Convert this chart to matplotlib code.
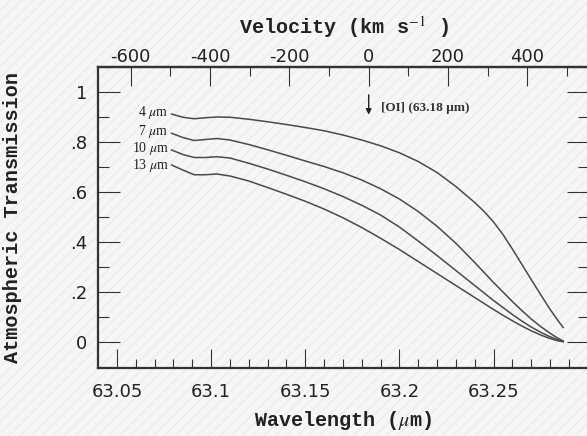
import numpy as np
import matplotlib.pyplot as plt
from matplotlib.ticker import MultipleLocator, FixedLocator, FixedFormatter
from matplotlib.patches import Rectangle

plt.rcParams['axes.unicode_minus'] = False
plt.rcParams['mathtext.fontset'] = 'stix'
plt.rcParams['hatch.linewidth'] = 0.5

# wavelength grid (micron)
wave = [63.079, 63.085, 63.091, 63.097, 63.103, 63.110, 63.120, 63.130,
        63.140, 63.150, 63.160, 63.170, 63.180, 63.190, 63.200, 63.210,
        63.220, 63.230, 63.240, 63.245, 63.250, 63.255, 63.260, 63.265,
        63.270, 63.275, 63.280, 63.284, 63.287]

# atmospheric transmission for each precipitable water vapour column
trans_4 = [0.912, 0.899, 0.893, 0.897, 0.900, 0.899, 0.891, 0.881,
           0.870, 0.858, 0.845, 0.828, 0.808, 0.785, 0.757, 0.722,
           0.678, 0.622, 0.558, 0.522, 0.480, 0.430, 0.372, 0.311,
           0.250, 0.190, 0.131, 0.088, 0.058]
trans_7 = [0.835, 0.818, 0.806, 0.810, 0.814, 0.808, 0.790, 0.769,
           0.747, 0.724, 0.702, 0.677, 0.648, 0.613, 0.572, 0.522,
           0.463, 0.395, 0.318, 0.278, 0.238, 0.200, 0.162, 0.126,
           0.092, 0.062, 0.035, 0.016, 0.004]
trans_10 = [0.768, 0.750, 0.738, 0.738, 0.741, 0.736, 0.715, 0.692,
            0.667, 0.641, 0.613, 0.582, 0.547, 0.508, 0.460, 0.404,
            0.346, 0.286, 0.226, 0.196, 0.166, 0.138, 0.110, 0.084,
            0.060, 0.039, 0.021, 0.009, 0.002]
trans_13 = [0.708, 0.688, 0.669, 0.669, 0.672, 0.664, 0.644, 0.618,
            0.591, 0.563, 0.532, 0.497, 0.458, 0.415, 0.370, 0.322,
            0.274, 0.226, 0.178, 0.154, 0.130, 0.107, 0.085, 0.064,
            0.045, 0.028, 0.014, 0.005, 0.001]
pwv_labels = ['4', '7', '10', '13']
pwv_label_y = [0.918, 0.842, 0.774, 0.706]

y_ticks = [0, 0.2, 0.4, 0.6, 0.8, 1.0]
y_ticklabels = ['0', '.2', '.4', '.6', '.8', '1']
x_ticks = [63.05, 63.10, 63.15, 63.20, 63.25]
x_ticklabels = ['63.05', '63.1', '63.15', '63.2', '63.25']
vel_ticks = [-600, -400, -200, 0, 200, 400]

C_KMS = 299792.458
OI_WAVE = 63.1837


def to_vel(w):
    return (np.asarray(w) - OI_WAVE) / OI_WAVE * C_KMS


def to_wave(v):
    return OI_WAVE * (1.0 + np.asarray(v) / C_KMS)


fig = plt.figure(figsize=(5.87, 4.36), dpi=100, facecolor='#f6f6f6')
# faint diagonal texture behind everything
fig.patches.append(Rectangle((0, 0), 1, 1, transform=fig.transFigure,
                             facecolor='#f6f6f6', edgecolor='#e2e2e2',
                             hatch='///', lw=0, zorder=-10))

ax = fig.add_axes([98.3 / 587, 68 / 436, (589 - 98.3) / 587, 301 / 436])
ax.set_facecolor('none')

line_col = '#4a4a4a'
series = [trans_4, trans_7, trans_10, trans_13]
for lab, ly, t in zip(pwv_labels, pwv_label_y, series):
    ax.plot(wave, t, color=line_col, lw=1.1)
    ax.text(wave[0] - 0.0015, ly, lab + r' $\mu$m',
            ha='right', va='center', fontsize=10,
            family='Liberation Serif', color='#222222')

# [OI] line position
ax.annotate('', xy=(OI_WAVE, 0.898), xytext=(OI_WAVE, 1.0),
            arrowprops=dict(arrowstyle='-|>', color='#222222', lw=1.0,
                            mutation_scale=8))
ax.text(OI_WAVE + 0.0065, 0.938, '[OI] (63.18 μm)', ha='left', va='center',
        fontsize=9.5, family='Liberation Serif', weight='bold',
        color='#333333')

ax.set_xlim(63.0401, 63.3007)
ax.set_ylim(-0.104, 1.1)

ax.xaxis.set_major_locator(FixedLocator(x_ticks))
ax.xaxis.set_major_formatter(FixedFormatter(x_ticklabels))
ax.xaxis.set_minor_locator(MultipleLocator(0.01))
ax.yaxis.set_major_locator(FixedLocator(y_ticks))
ax.yaxis.set_major_formatter(FixedFormatter(y_ticklabels))
ax.yaxis.set_minor_locator(MultipleLocator(0.1))

ax.tick_params(axis='x', which='both', direction='in', top=False,
               labelsize=13, pad=11, colors='#333333', labelcolor='#222222')
ax.tick_params(axis='x', which='major', length=13.5, width=0.8)
ax.tick_params(axis='x', which='minor', length=6.5, width=0.8)
ax.tick_params(axis='y', which='both', direction='in', right=True,
               labelsize=13, pad=8, colors='#333333', labelcolor='#222222')
ax.tick_params(axis='y', which='major', length=15.5, width=0.8)
ax.tick_params(axis='y', which='minor', length=8, width=0.8)
for s in ax.spines.values():
    s.set_linewidth(1.6)
    s.set_color('#333333')

label_font = dict(family='Liberation Mono', weight='bold', size=14.5,
                  color='#222222')
ax.set_xlabel(r'Wavelength ($\mu$m)', **label_font)
ax.xaxis.set_label_coords(0.5, -0.135)
ax.set_ylabel('Atmospheric Transmission', **label_font)
ax.yaxis.set_label_coords(-0.155, 0.5)

sec = ax.secondary_xaxis('top', functions=(to_vel, to_wave))
sec.xaxis.set_major_locator(FixedLocator(vel_ticks))
sec.xaxis.set_minor_locator(MultipleLocator(100))
sec.tick_params(which='both', direction='in', labelsize=13, pad=1,
                colors='#333333', labelcolor='#222222')
sec.tick_params(which='major', length=13.5, width=0.8)
sec.tick_params(which='minor', length=6.5, width=0.8)
sec.spines['top'].set_linewidth(1.6)
sec.spines['top'].set_color('#333333')
sec.set_xlabel(r'Velocity (km s$^{-1}$ )', labelpad=10, **label_font)

fig.savefig('out.png', dpi=100, facecolor=fig.get_facecolor())
